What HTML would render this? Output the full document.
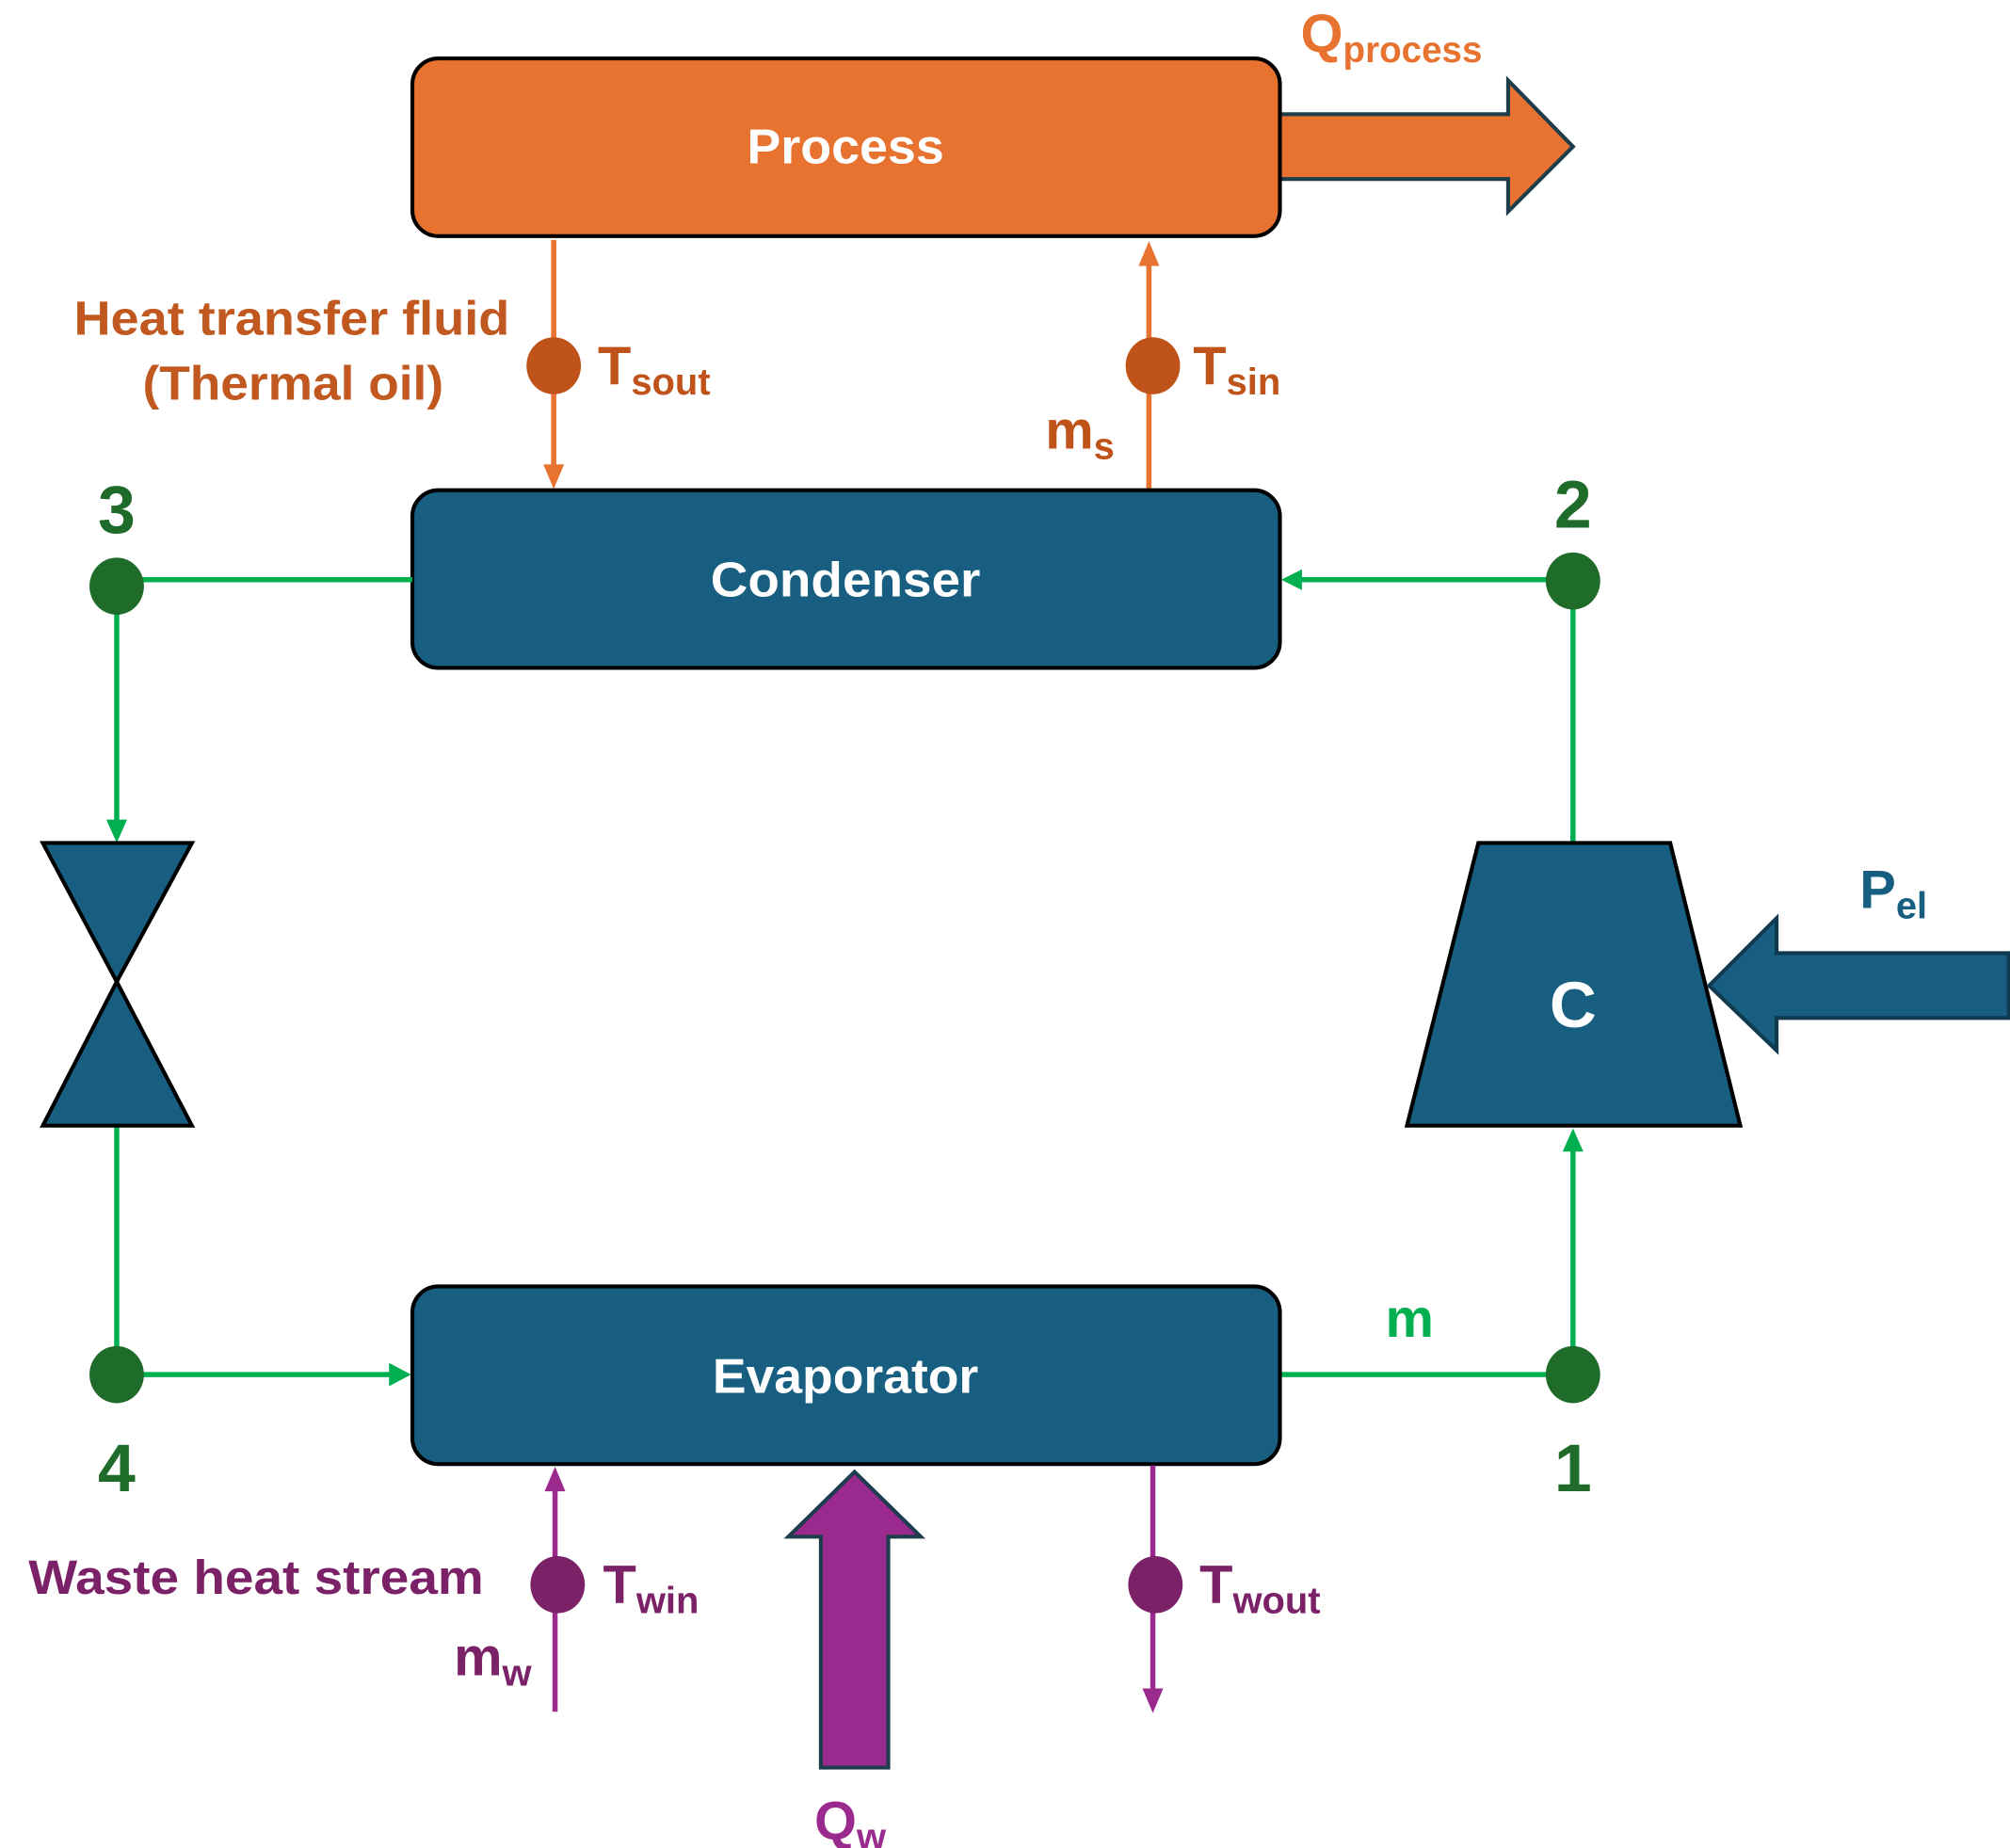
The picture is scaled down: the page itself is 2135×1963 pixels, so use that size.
<!DOCTYPE html>
<html><head><meta charset="utf-8"><style>html,body{margin:0;padding:0;background:#fff}svg{display:block}text{font-family:"Liberation Sans",sans-serif;font-weight:bold}</style></head>
<body>
<svg width="2135" height="1963" viewBox="0 0 1550 1425" xmlns="http://www.w3.org/2000/svg">
<!-- Q process arrow -->
<path d="M985,88 L1163,88 L1163,62 L1213,113 L1163,163 L1163,138 L985,138 Z" fill="#E8722F" stroke="#1d3c4c" stroke-width="3"/>
<rect x="318" y="45" width="669" height="137" rx="20" fill="#E8722F" stroke="#000" stroke-width="3"/>
<text x="652" y="126" font-size="38" fill="#fff" text-anchor="middle" textLength="152" lengthAdjust="spacingAndGlyphs">Process</text>
<text x="1003" y="40" font-size="42" fill="#E8722F">Q<tspan font-size="28" dy="8">process</tspan></text>

<!-- orange lines -->
<line x1="427" y1="185" x2="427" y2="362" stroke="#E8722F" stroke-width="4"/>
<path d="M419,358 L435,358 L427,377 Z" fill="#E8722F"/>
<line x1="886" y1="378" x2="886" y2="200" stroke="#E8722F" stroke-width="4"/>
<path d="M878,205 L894,205 L886,186 Z" fill="#E8722F"/>
<ellipse cx="427" cy="282" rx="21" ry="22" fill="#C0531A"/>
<ellipse cx="889" cy="282" rx="21" ry="22" fill="#C0531A"/>
<text x="57" y="258" font-size="37" fill="#C0581F" textLength="336" lengthAdjust="spacingAndGlyphs">Heat transfer fluid</text>
<text x="110" y="308" font-size="37" fill="#C0581F" textLength="232" lengthAdjust="spacingAndGlyphs">(Thermal oil)</text>
<text x="461" y="296" font-size="42" fill="#C0531A">T<tspan font-size="29" dy="8">sout</tspan></text>
<text x="920" y="296" font-size="42" fill="#C0531A">T<tspan font-size="29" dy="8">sin</tspan></text>
<text x="806" y="346" font-size="42" fill="#C0531A">m<tspan font-size="29" dy="8">s</tspan></text>

<!-- condenser -->
<rect x="318" y="378" width="669" height="137" rx="20" fill="#175E80" stroke="#000" stroke-width="3"/>
<text x="652" y="460" font-size="38" fill="#fff" text-anchor="middle" textLength="208" lengthAdjust="spacingAndGlyphs">Condenser</text>

<!-- green loop -->
<g stroke="#00B050" stroke-width="4" fill="none">
<line x1="90" y1="447" x2="318" y2="447"/>
<line x1="1213" y1="447" x2="1000" y2="447"/>
<line x1="90" y1="452" x2="90" y2="636"/>
<line x1="1213" y1="448" x2="1213" y2="650"/>
<line x1="90" y1="868" x2="90" y2="1060"/>
<line x1="90" y1="1060" x2="302" y2="1060"/>
<line x1="987" y1="1060" x2="1213" y2="1060"/>
<line x1="1213" y1="1060" x2="1213" y2="884"/>
</g>
<path d="M988,447 L1004,439 L1004,455 Z" fill="#00B050"/>
<path d="M82,632 L98,632 L90,650 Z" fill="#00B050"/>
<path d="M300,1051 L300,1069 L317,1060 Z" fill="#00B050"/>
<path d="M1205,888 L1221,888 L1213,870 Z" fill="#00B050"/>
<ellipse cx="90" cy="452" rx="21" ry="22" fill="#1E6B2A"/>
<ellipse cx="1213" cy="448" rx="21" ry="22" fill="#1E6B2A"/>
<ellipse cx="90" cy="1060" rx="21" ry="22" fill="#1E6B2A"/>
<ellipse cx="1213" cy="1060" rx="21" ry="22" fill="#1E6B2A"/>
<text x="90" y="411" font-size="52" fill="#1E6B2A" text-anchor="middle">3</text>
<text x="1213" y="407" font-size="52" fill="#1E6B2A" text-anchor="middle">2</text>
<text x="90" y="1150" font-size="52" fill="#1E6B2A" text-anchor="middle">4</text>
<text x="1213" y="1150" font-size="52" fill="#1E6B2A" text-anchor="middle">1</text>
<text x="1087" y="1031" font-size="42" fill="#00B050" text-anchor="middle">m</text>

<!-- valve -->
<path d="M33,650 L148,650 L90,757 Z" fill="#175E80" stroke="#000" stroke-width="3"/>
<path d="M90,757 L33,868 L148,868 Z" fill="#175E80" stroke="#000" stroke-width="3"/>

<!-- compressor -->
<path d="M1140,650 L1288,650 L1342,868 L1085,868 Z" fill="#175E80" stroke="#000" stroke-width="3"/>
<text x="1213" y="792" font-size="50" fill="#fff" text-anchor="middle">C</text>
<path d="M1549,735 L1370,735 L1370,708 L1318,760 L1370,810 L1370,785 L1549,785 Z" fill="#175E80" stroke="#0f3a50" stroke-width="3"/>
<text x="1434" y="700" font-size="42" fill="#175E80">P<tspan font-size="29" dy="8">el</tspan></text>

<!-- evaporator -->
<rect x="318" y="992" width="669" height="137" rx="20" fill="#175E80" stroke="#000" stroke-width="3"/>
<text x="652" y="1074" font-size="38" fill="#fff" text-anchor="middle" textLength="205" lengthAdjust="spacingAndGlyphs">Evaporator</text>

<!-- purple -->
<line x1="428" y1="1320" x2="428" y2="1146" stroke="#9B2A8E" stroke-width="4"/>
<path d="M420,1150 L436,1150 L428,1131 Z" fill="#9B2A8E"/>
<line x1="889" y1="1130" x2="889" y2="1306" stroke="#9B2A8E" stroke-width="4"/>
<path d="M881,1302 L897,1302 L889,1321 Z" fill="#9B2A8E"/>
<ellipse cx="430" cy="1222" rx="21" ry="22" fill="#7B2168"/>
<ellipse cx="891" cy="1222" rx="21" ry="22" fill="#7B2168"/>
<path d="M633,1363 L633,1185 L608,1185 L659,1135 L710,1185 L685,1185 L685,1363 Z" fill="#9B2A8E" stroke="#1d3c4c" stroke-width="3"/>
<text x="22" y="1229" font-size="37" fill="#7B2168" textLength="351" lengthAdjust="spacingAndGlyphs">Waste heat stream</text>
<text x="465" y="1236" font-size="42" fill="#7B2168">T<tspan font-size="29" dy="8">win</tspan></text>
<text x="925" y="1236" font-size="42" fill="#7B2168">T<tspan font-size="29" dy="8">wout</tspan></text>
<text x="350" y="1292" font-size="42" fill="#7B2168">m<tspan font-size="29" dy="8">w</tspan></text>
<text x="628" y="1418" font-size="42" fill="#9B2A8E">Q<tspan font-size="29" dy="8">w</tspan></text>
</svg>
</body></html>
